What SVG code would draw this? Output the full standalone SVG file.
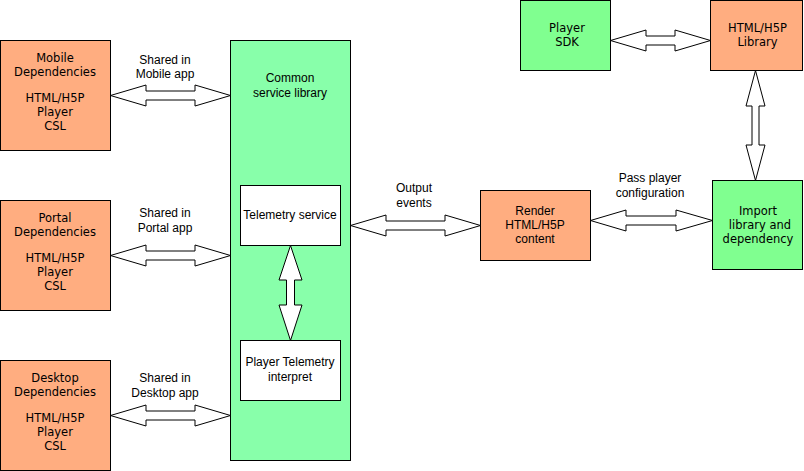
<svg xmlns="http://www.w3.org/2000/svg" width="804" height="471" viewBox="0 0 804 471">
<style>
text{font-family:"Liberation Sans",Arial,sans-serif;font-size:12px;fill:#000;text-anchor:middle}
text.v{font-family:"DejaVu Sans",Verdana,sans-serif;font-size:11.5px}
.or{fill:#FFAD80;stroke:#000;stroke-width:1}
.gr{fill:#80FF90;stroke:#000;stroke-width:1}
.mint{fill:#88FFAA;stroke:#000;stroke-width:1}
.wh{fill:#fff;stroke:#000;stroke-width:1}
.arr{fill:#fff;stroke:#000;stroke-width:1;stroke-linejoin:miter}
</style>
<rect width="804" height="471" fill="#fff"/>
<g id="mobile"><rect class="or" x="0.5" y="40.5" width="110" height="110"/>
<text class="v" x="55" y="61.5">Mobile</text><text class="v" x="55" y="76">Dependencies</text><text class="v" x="55" y="101.5">HTML/H5P</text><text class="v" x="55" y="115.5">Player</text><text class="v" x="55" y="130">CSL</text></g>
<g id="portal"><rect class="or" x="0.5" y="200.5" width="110" height="110"/>
<text class="v" x="55" y="221.5">Portal</text><text class="v" x="55" y="236">Dependencies</text><text class="v" x="55" y="261.5">HTML/H5P</text><text class="v" x="55" y="275.5">Player</text><text class="v" x="55" y="290">CSL</text></g>
<g id="desktop"><rect class="or" x="0.5" y="360.5" width="110" height="110"/>
<text class="v" x="55" y="381.5">Desktop</text><text class="v" x="55" y="396">Dependencies</text><text class="v" x="55" y="421.5">HTML/H5P</text><text class="v" x="55" y="435.5">Player</text><text class="v" x="55" y="450">CSL</text></g>
<g id="csl"><rect class="mint" x="230.5" y="40.5" width="120" height="420"/>
<text x="290" y="82">Common</text><text x="290" y="97">service library</text></g>
<g id="telemetry"><rect class="wh" x="240.5" y="185.5" width="100" height="60"/>
<text x="290" y="219">Telemetry service</text></g>
<g id="interpret"><rect class="wh" x="240.5" y="340.5" width="100" height="60"/>
<text x="290" y="366">Player Telemetry</text><text x="290" y="381">interpret</text></g>
<g id="render"><rect class="or" x="480.5" y="190.5" width="110" height="70"/>
<text x="535" y="215">Render</text><text x="535" y="229">HTML/H5P</text><text x="535" y="243">content</text></g>
<g id="import"><rect class="gr" x="712.5" y="180.5" width="90" height="89" stroke="#555" stroke-width="1.5"/>
<text class="v" x="758" y="215">Import</text><text class="v" x="760" y="229.3">library and</text><text class="v" x="758" y="243.3">dependency</text></g>
<g id="sdk"><rect class="gr" x="520.5" y="0.5" width="90" height="70"/>
<text class="v" x="567" y="31.7">Player</text><text class="v" x="567" y="46">SDK</text></g>
<g id="library"><rect class="or" x="710.5" y="0.5" width="92" height="70"/>
<text class="v" x="757.5" y="31.7">HTML/H5P</text><text class="v" x="757.5" y="46">Library</text></g>
<g id="connectors">
<path class="arr" d="M110.5,95.5 L146,85 L146,91 L195,91 L195,85 L230.5,95.5 L195,106 L195,100 L146,100 L146,106 Z"/>
<path class="arr" d="M110.5,255.5 L146,245 L146,251 L195,251 L195,245 L230.5,255.5 L195,266 L195,260 L146,260 L146,266 Z"/>
<path class="arr" d="M110.5,415.5 L146,405 L146,411 L195,411 L195,405 L230.5,415.5 L195,426 L195,420 L146,420 L146,426 Z"/>
<path class="arr" d="M350.5,225.5 L386,215 L386,221 L445,221 L445,215 L480.5,225.5 L445,236 L445,230 L386,230 L386,236 Z"/>
<path class="arr" d="M590.5,220.5 L626,210 L626,216 L676,216 L676,210 L712.5,220.5 L676,231 L676,225 L626,225 L626,231 Z"/>
<path class="arr" d="M610.5,40.5 L646,30 L646,36 L675,36 L675,30 L710.5,40.5 L675,51 L675,45 L646,45 L646,51 Z"/>
<path class="arr" d="M290.5,245.5 L302,280 L294.5,280 L294.5,305 L302,305 L290.5,340.5 L279,305 L286.5,305 L286.5,280 L279,280 Z"/>
<path class="arr" d="M755.5,70.5 L765,106 L759,106 L759,145 L765,145 L755.5,180.5 L746,145 L752,145 L752,106 L746,106 Z"/>
</g>
<g id="labels">
<text x="165" y="64">Shared in</text><text x="165" y="78">Mobile app</text>
<text x="165" y="217">Shared in</text><text x="165" y="232">Portal app</text>
<text x="165" y="382">Shared in</text><text x="165" y="397">Desktop app</text>
<text x="414" y="192">Output</text><text x="414" y="207">events</text>
<text x="650" y="182">Pass player</text><text x="650" y="197">configuration</text>
</g>
</svg>
